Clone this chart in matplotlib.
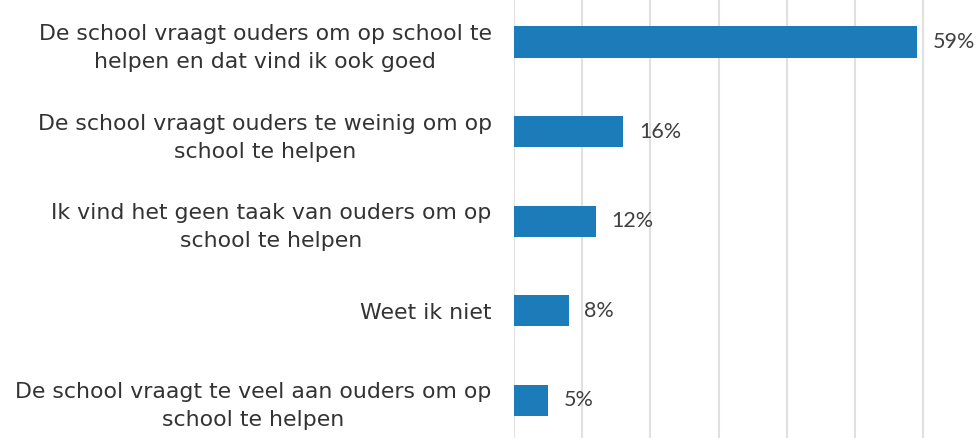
import matplotlib
matplotlib.use("Agg")
import matplotlib.pyplot as plt

# data
categories = [
    "De school vraagt ouders om op school te\nhelpen en dat vind ik ook goed",
    "De school vraagt ouders te weinig om op\nschool te helpen",
    "Ik vind het geen taak van ouders om op\nschool te helpen",
    "Weet ik niet",
    "De school vraagt te veel aan ouders om op\nschool te helpen",
]
values = [59, 16, 12, 8, 5]
value_labels = ["59%", "16%", "12%", "8%", "5%"]

plt.rcParams["font.family"] = ["DejaVu Sans"]

fig = plt.figure(figsize=(9.78, 4.38), dpi=100)
ax = fig.add_axes([514 / 978, 0, 1 - 514 / 978, 1])

y = list(range(len(categories)))
ax.barh(y, values, height=0.35, color="#1c7cba", zorder=3)

for yi, v, lab in zip(y, values, value_labels):
    ax.text(v + 2.3, yi, lab, va="center", ha="left", fontsize=15.5,
            color="#404040", family="Lato")

ax.set_xlim(0, 68)
ax.set_ylim(4.42, -0.47)
ax.set_xticks(range(0, 70, 10))
ax.grid(axis="x", color="#e0e0e0", linewidth=1.5, zorder=0)
ax.set_yticks(y)
ax.set_yticklabels(categories, fontsize=15.8, color="#333333",
                   multialignment="center", linespacing=1.5)
ax.tick_params(axis="y", length=0, pad=16)
ax.tick_params(axis="x", length=0, labelbottom=False)
for s in ax.spines.values():
    s.set_visible(False)

fig.savefig("out.png", dpi=100)
